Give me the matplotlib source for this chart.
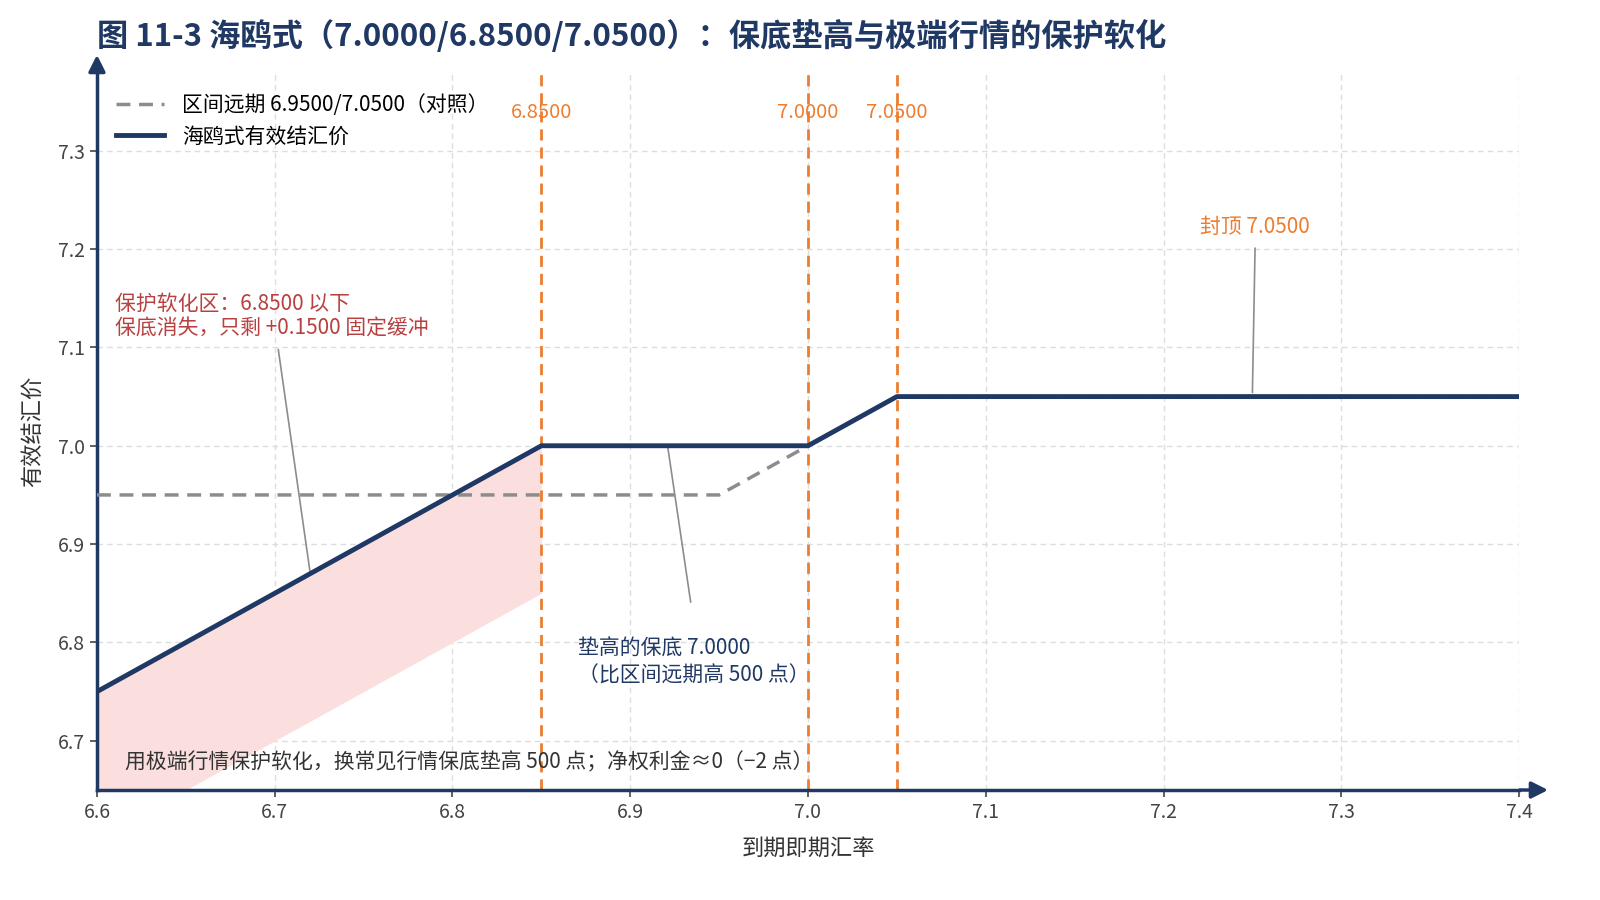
import matplotlib

matplotlib.use("Agg")
import matplotlib.pyplot as plt
import numpy as np

plt.rcParams["font.family"] = ["Noto Sans CJK SC", "DejaVu Sans"]
plt.rcParams["axes.unicode_minus"] = False

NAVY = "#1f3864"
ORANGE = "#ed7d31"
GREY = "#8c8c8c"
RED = "#b94040"
PINK = "#fbdfdf"

# seagull effective rate (kinks at 6.85 / 7.00 / 7.05)
seagull_x = [6.60, 6.85, 7.00, 7.05, 7.40]
seagull_y = [6.75, 7.00, 7.00, 7.05, 7.05]
# range forward reference 6.95/7.05
rf_x = [6.60, 6.95, 7.05, 7.40]
rf_y = [6.95, 6.95, 7.05, 7.05]
# soft-protection band below 6.85: spot vs spot + 0.15
band_x = [6.60, 6.85]
band_lo = [6.60, 6.85]
band_hi = [6.75, 7.00]
strikes = [6.85, 7.00, 7.05]
strike_labels = ["6.8500", "7.0000", "7.0500"]
x_ticks = [6.6, 6.7, 6.8, 6.9, 7.0, 7.1, 7.2, 7.3, 7.4]
y_ticks = [6.7, 6.8, 6.9, 7.0, 7.1, 7.2, 7.3]

fig = plt.figure(figsize=(16, 9), dpi=100)
ax = fig.add_axes([0.0606, 0.1222, 0.8888, 0.7978])

ax.fill_between(band_x, band_lo, band_hi, color=PINK, lw=0, zorder=1)
ax.plot(rf_x, rf_y, color=GREY, lw=2.5, ls=(0, (4, 2.5)), zorder=3,
        label="区间远期 6.9500/7.0500（对照）")
ax.plot(seagull_x, seagull_y, color=NAVY, lw=3.5, zorder=4,
        label="海鸥式有效结汇价")

for k, lab in zip(strikes, strike_labels):
    ax.axvline(k, color=ORANGE, lw=2, ls=(0, (4, 2.5)), zorder=2)
    ax.text(k, 7.339, lab, color=ORANGE, fontsize=14.5, ha="center", va="center", zorder=5)

ax.set_xlim(6.6, 7.4)
ax.set_ylim(6.65, 7.38)
ax.set_xticks(x_ticks)
ax.set_yticks(y_ticks)
ax.set_xticklabels([f"{v:.1f}" for v in x_ticks])
ax.set_yticklabels([f"{v:.1f}" for v in y_ticks])
ax.tick_params(labelsize=14, colors="#444444", length=5, width=1.2)
ax.grid(True, color="#dddddd", ls=(0, (4, 3)), lw=1)
ax.set_axisbelow(True)
for s in ["top", "right"]:
    ax.spines[s].set_visible(False)
for s in ["left", "bottom"]:
    ax.spines[s].set_color(NAVY)
    ax.spines[s].set_linewidth(2.5)

# axis arrows (spine extension + filled head)
head = dict(arrowstyle="-|>,head_length=1.0,head_width=0.5", color=NAVY, lw=2.5,
            shrinkA=0, shrinkB=0, capstyle="butt")
ax.annotate("", xy=(1.0205, 0), xytext=(1.0, 0), xycoords="axes fraction",
            arrowprops=head, annotation_clip=False)
ax.annotate("", xy=(0, 1.024), xytext=(0, 1.0), xycoords="axes fraction",
            arrowprops=head, annotation_clip=False)

ax.set_xlabel("到期即期汇率", fontsize=16, color="#333333", labelpad=10)
ax.set_ylabel("有效结汇价", fontsize=16, color="#333333", labelpad=10)

leg = ax.legend(loc="upper left", bbox_to_anchor=(0.0, 0.995), frameon=False,
                fontsize=15, handlelength=2.3, handletextpad=0.9, labelspacing=0.45)

# annotations
ax.text(6.61, 7.132, "保护软化区：6.8500 以下\n保底消失，只剩 +0.1500 固定缓冲",
        color=RED, fontsize=15, ha="left", va="center", linespacing=1.15)
ax.annotate("", xy=(6.72, 6.87), xytext=(6.702, 7.098),
            arrowprops=dict(arrowstyle="-", color=GREY, lw=1.2, shrinkA=0, shrinkB=0))

ax.text(6.8706, 6.780, "垫高的保底 7.0000\n（比区间远期高 500 点）",
        color=NAVY, fontsize=15, ha="left", va="center", linespacing=1.25)
ax.annotate("", xy=(6.921, 7.0), xytext=(6.934, 6.841),
            arrowprops=dict(arrowstyle="-", color=GREY, lw=1.2, shrinkA=0, shrinkB=0))

ax.text(7.2515, 7.222, "封顶 7.0500", color=ORANGE, fontsize=15, ha="center", va="center")
ax.annotate("", xy=(7.25, 7.054), xytext=(7.2515, 7.201),
            arrowprops=dict(arrowstyle="-", color=GREY, lw=1.2, shrinkA=0, shrinkB=0))

ax.text(6.616, 6.6785, "用极端行情保护软化，换常见行情保底垫高 500 点；净权利金≈0（−2 点）",
        color="#333333", fontsize=15, ha="left", va="center")

fig.text(97 / 1600, 0.96, "图 11-3 海鸥式（7.0000/6.8500/7.0500）：保底垫高与极端行情的保护软化",
         fontsize=22.5, fontweight="bold", color=NAVY, ha="left", va="center")

fig.savefig("out.png", dpi=100)
plt.close(fig)
